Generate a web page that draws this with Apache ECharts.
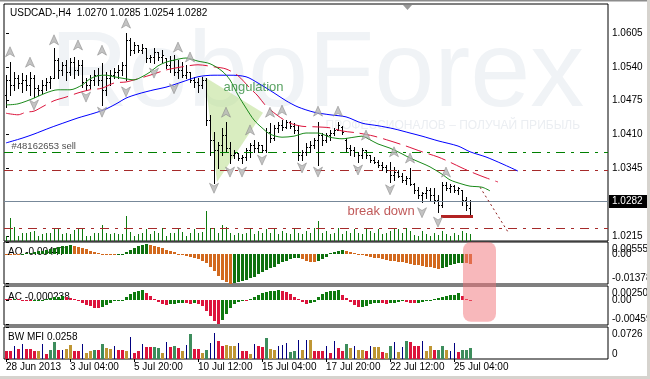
<!DOCTYPE html>
<html>
<head>
<meta charset="utf-8">
<title>USDCAD H4</title>
<script src="https://cdn.jsdelivr.net/npm/echarts@6.0.0/dist/echarts.min.js"></script>
<style>
html,body{margin:0;padding:0;background:#fff;overflow:hidden;}
#chart{width:650px;height:379px;}
</style>
</head>
<body>
<div id="chart"></div>
<script>
// ================= DATA =================
const symbolTitle = 'USDCAD-,H4';
const lastBarOHLC = ['1.0270', '1.0285', '1.0254', '1.0282'];

const opens = [
1.0486,1.0515,1.0505,1.0519,1.0509,1.0515,1.0505,1.0519,1.0499,1.0496,
1.0505,1.0511,1.0519,1.0553,1.0534,1.0544,1.0530,1.0549,1.0534,1.0544,
1.0511,1.0505,1.0515,1.0524,1.0515,1.0496,1.0519,1.0524,1.0530,1.0534,
1.0544,1.0592,1.0572,1.0582,1.0572,1.0576,1.0557,1.0559,1.0569,1.0559,
1.0557,1.0544,1.0553,1.0530,1.0534,1.0524,1.0530,1.0515,1.0511,1.0505,
1.0515,1.0438,1.0400,1.0380,1.0390,1.0409,1.0384,1.0371,1.0375,1.0365,
1.0367,1.0380,1.0390,1.0384,1.0390,1.0380,1.0415,1.0403,1.0423,1.0428,
1.0425,1.0434,1.0426,1.0419,1.0371,1.0377,1.0386,1.0390,1.0400,1.0409,
1.0400,1.0409,1.0413,1.0419,1.0425,1.0400,1.0384,1.0380,1.0377,1.0371,
1.0380,1.0371,1.0361,1.0357,1.0352,1.0348,1.0342,1.0332,1.0338,1.0330,
1.0323,1.0327,1.0315,1.0304,1.0294,1.0298,1.0304,1.0294,1.0284,1.0275,
1.0313,1.0307,1.0311,1.0304,1.0304,1.0284,1.0270];
const highs = [
1.0524,1.0549,1.0530,1.0524,1.0528,1.0524,1.0530,1.0524,1.0505,1.0515,
1.0519,1.0523,1.0576,1.0557,1.0549,1.0553,1.0557,1.0559,1.0553,1.0553,
1.0519,1.0524,1.0534,1.0538,1.0547,1.0530,1.0534,1.0538,1.0544,1.0549,
1.0605,1.0595,1.0588,1.0582,1.0584,1.0576,1.0563,1.0576,1.0569,1.0572,
1.0557,1.0561,1.0563,1.0553,1.0549,1.0544,1.0530,1.0521,1.0519,1.0521,
1.0519,1.0448,1.0415,1.0396,1.0423,1.0434,1.0396,1.0380,1.0375,1.0371,
1.0384,1.0394,1.0400,1.0396,1.0390,1.0423,1.0432,1.0428,1.0434,1.0438,
1.0438,1.0436,1.0432,1.0428,1.0380,1.0394,1.0398,1.0403,1.0434,1.0413,
1.0413,1.0419,1.0423,1.0434,1.0426,1.0403,1.0390,1.0386,1.0377,1.0384,
1.0380,1.0371,1.0367,1.0361,1.0357,1.0352,1.0357,1.0348,1.0342,1.0336,
1.0330,1.0346,1.0317,1.0309,1.0300,1.0309,1.0307,1.0307,1.0294,1.0319,
1.0319,1.0315,1.0313,1.0309,1.0304,1.0290,1.0285];
const lows = [
1.0463,1.0486,1.0496,1.0499,1.0492,1.0496,1.0486,1.0482,1.0486,1.0490,
1.0496,1.0499,1.0519,1.0519,1.0524,1.0515,1.0524,1.0519,1.0524,1.0501,
1.0496,1.0499,1.0505,1.0505,1.0467,1.0486,1.0505,1.0519,1.0519,1.0524,
1.0515,1.0563,1.0567,1.0569,1.0567,1.0549,1.0549,1.0547,1.0553,1.0549,
1.0538,1.0530,1.0524,1.0519,1.0521,1.0519,1.0511,1.0501,1.0492,1.0499,
1.0428,1.0371,1.0317,1.0346,1.0371,1.0377,1.0355,1.0365,1.0361,1.0355,
1.0361,1.0367,1.0377,1.0377,1.0377,1.0377,1.0396,1.0400,1.0415,1.0419,
1.0423,1.0423,1.0413,1.0361,1.0361,1.0371,1.0377,1.0384,1.0352,1.0390,
1.0396,1.0400,1.0409,1.0419,1.0411,1.0377,1.0371,1.0369,1.0357,1.0365,
1.0365,1.0357,1.0355,1.0348,1.0342,1.0338,1.0319,1.0323,1.0329,1.0319,
1.0315,1.0313,1.0298,1.0288,1.0281,1.0288,1.0284,1.0279,1.0261,1.0271,
1.0304,1.0300,1.0300,1.0296,1.0275,1.0265,1.0254];
const closes = [
1.0515,1.0505,1.0519,1.0509,1.0515,1.0505,1.0519,1.0499,1.0496,1.0505,
1.0511,1.0519,1.0553,1.0534,1.0544,1.0530,1.0549,1.0534,1.0544,1.0511,
1.0505,1.0515,1.0524,1.0515,1.0496,1.0519,1.0524,1.0530,1.0534,1.0544,
1.0592,1.0572,1.0582,1.0572,1.0576,1.0557,1.0559,1.0569,1.0559,1.0563,
1.0544,1.0553,1.0530,1.0534,1.0524,1.0530,1.0515,1.0511,1.0505,1.0515,
1.0438,1.0400,1.0380,1.0390,1.0409,1.0384,1.0371,1.0375,1.0365,1.0367,
1.0380,1.0390,1.0384,1.0390,1.0380,1.0415,1.0403,1.0423,1.0428,1.0425,
1.0434,1.0426,1.0419,1.0371,1.0377,1.0386,1.0390,1.0400,1.0409,1.0400,
1.0409,1.0413,1.0419,1.0428,1.0415,1.0384,1.0380,1.0377,1.0371,1.0380,
1.0371,1.0361,1.0357,1.0352,1.0348,1.0342,1.0332,1.0338,1.0330,1.0323,
1.0327,1.0315,1.0304,1.0294,1.0298,1.0304,1.0294,1.0284,1.0275,1.0313,
1.0307,1.0311,1.0304,1.0307,1.0284,1.0275,1.0282];
const tickVolumes = [
500,2300,1400,500,800,800,900,1000,500,700,
800,800,1300,1300,700,800,700,1100,1300,1200,
500,500,800,800,1600,800,700,800,700,700,
2500,900,500,700,800,1200,700,1000,800,1300,
500,800,800,1300,900,500,800,1200,800,900,
3000,1300,1300,800,1600,1400,800,600,800,700,
800,1300,700,1000,800,1200,800,1200,700,1000,
800,700,1300,800,700,1000,800,1300,2000,800,
1000,700,800,1300,700,1000,800,1200,800,700,
1200,1000,800,1200,700,800,1000,1300,1200,800,
1300,1000,600,500,1000,700,500,800,600,1000,
700,500,800,600,1000,800,700];

// Alligator lines (bar index, price)
const lipsLine = [[0,1.0467],[3,1.0469],[7,1.0480],[10,1.0490],[13,1.0496],[16,1.0496],[19,1.0505],[21,1.0517],[23,1.0523],[25,1.0524],[27,1.0521],[30,1.0517],[32,1.0515],[34,1.0521],[36,1.0530],[38,1.0542],[40,1.0549],[42,1.0553],[45,1.0557],[48,1.0551],[51,1.0546],[54,1.0532],[56,1.0515],[58,1.0486],[60,1.0461],[62,1.0438],[64,1.0423],[66,1.0411],[69,1.0405],[72,1.0407],[75,1.0413],[78,1.0413],[81,1.0405],[84,1.0402],[87,1.0405],[89,1.0407],[91,1.0400],[93,1.0392],[96,1.0384],[99,1.0373],[101,1.0365],[104,1.0355],[106,1.0348],[109,1.0334],[111,1.0323],[114,1.0315],[116,1.0311],[119,1.0309],[121,1.0302]];
const teethLine = [[0,1.0451],[3,1.0448],[5,1.0453],[7,1.0455],[9,1.0463],[12,1.0475],[15,1.0482],[18,1.0490],[21,1.0496],[24,1.0499],[27,1.0509],[30,1.0511],[32,1.0515],[36,1.0524],[40,1.0534],[44,1.0540],[48,1.0544],[52,1.0540],[55,1.0536],[58,1.0523],[61,1.0499],[63,1.0484],[65,1.0465],[68,1.0446],[71,1.0432],[74,1.0426],[77,1.0425],[81,1.0423],[84,1.0417],[88,1.0413],[92,1.0407],[96,1.0398],[100,1.0388],[104,1.0377],[108,1.0367],[111,1.0357],[114,1.0346],[117,1.0336],[120,1.0327],[123,1.0319]];
const jawLine = [[0,1.0394],[4,1.0403],[7,1.0411],[11,1.0423],[15,1.0434],[18,1.0442],[22,1.0451],[25,1.0459],[28,1.0471],[30,1.0480],[33,1.0488],[37,1.0496],[40,1.0501],[44,1.0511],[48,1.0521],[52,1.0524],[56,1.0524],[60,1.0521],[63,1.0509],[67,1.0490],[70,1.0475],[73,1.0463],[77,1.0453],[81,1.0448],[85,1.0444],[89,1.0432],[93,1.0427],[97,1.0421],[101,1.0413],[104,1.0407],[108,1.0398],[113,1.0388],[116,1.0377],[120,1.0367],[124,1.0354],[128,1.0340]];

// Fractal arrows (bar index, price)
const upFractals = [[1,1.0569],[6,1.0549],[12,1.0592],[18,1.0582],[24,1.0572],[30,1.0624],[43,1.0578],[46,1.0559],[55,1.0453],[61,1.0419],[66,1.0453],[69,1.0457],[78,1.0455],[83,1.0455],[90,1.0409],[97,1.0377],[101,1.0365],[110,1.0338]];
const downFractals = [[7,1.0467],[20,1.0482],[24,1.0453],[30,1.0492],[37,1.0528],[42,1.0498],[52,1.0307],[56,1.0338],[59,1.0338],[64,1.0361],[74,1.0346],[78,1.0338],[88,1.0342],[96,1.0304],[104,1.0260],[108,1.0242]];

// Awesome Oscillator
const aoValues = [
0.0004,0.0003,0.0002,0.0001,0.0003,0.0005,0.0008,0.0011,0.0014,0.0017,
0.0021,0.0025,0.0030,0.0034,0.0038,0.0041,0.0043,0.0038,0.0033,0.0028,
0.0023,0.0016,0.0010,0.0006,0.0003,0.0001,-0.0001,-0.0002,-0.0001,0.0003,
0.0012,0.0022,0.0030,0.0037,0.0043,0.0047,0.0043,0.0038,0.0033,0.0028,
0.0022,0.0015,0.0009,0.0004,-0.0003,-0.0009,-0.0014,-0.0019,-0.0024,-0.0030,
-0.0040,-0.0057,-0.0080,-0.0102,-0.0118,-0.0130,-0.0137,-0.0133,-0.0128,-0.0124,
-0.0118,-0.0113,-0.0104,-0.0094,-0.0085,-0.0075,-0.0066,-0.0057,-0.0047,-0.0038,
-0.0030,-0.0022,-0.0017,-0.0015,-0.0024,-0.0030,-0.0035,-0.0038,-0.0033,-0.0024,
-0.0012,0.0005,0.0010,0.0015,0.0019,0.0014,0.0009,0.0005,-0.0001,-0.0005,
-0.0009,-0.0013,-0.0016,-0.0019,-0.0023,-0.0026,-0.0029,-0.0033,-0.0036,-0.0038,
-0.0042,-0.0045,-0.0048,-0.0052,-0.0055,-0.0058,-0.0061,-0.0064,-0.0068,-0.0064,
-0.0058,-0.0052,-0.0047,-0.0042,-0.0039,-0.0041,-0.00447];
// Accelerator Oscillator
const acValues = [
0.0002,0.0001,0.0002,0.0001,-0.0001,-0.0002,-0.0003,-0.0002,-0.0001,0.0000,
0.0001,0.0003,0.0005,0.0006,0.0007,0.0005,0.0003,0.0002,-0.0002,-0.0005,
-0.0009,-0.0012,-0.0015,-0.0016,-0.0013,-0.0009,-0.0006,-0.0003,-0.0002,-0.0001,
0.0006,0.0011,0.0015,0.0017,0.0018,0.0013,0.0008,0.0001,-0.0004,-0.0008,
-0.0009,-0.0008,-0.0007,-0.0006,-0.0005,-0.0006,-0.0007,-0.0006,-0.0007,-0.0012,
-0.0020,-0.0030,-0.0039,-0.0045,-0.0038,-0.0027,-0.0016,-0.0008,-0.0004,-0.0002,
-0.0003,0.0002,0.0006,0.0010,0.0013,0.0015,0.0016,0.0017,0.0019,0.0017,
0.0015,0.0011,0.0006,0.0002,-0.0004,-0.0007,-0.0006,-0.0004,0.0005,0.0011,
0.0014,0.0016,0.0017,0.0018,0.0010,0.0004,-0.0004,-0.0010,-0.0014,-0.0013,
-0.0011,-0.0008,-0.0006,-0.0005,-0.0006,-0.0007,-0.0006,-0.0005,-0.0004,-0.0003,
-0.0004,-0.0005,-0.0006,-0.0005,-0.0004,-0.0003,-0.0002,0.0001,0.0003,0.0005,
0.0007,0.0009,0.0010,0.0012,0.0008,0.0002,-0.000238];
// Market Facilitation Index
const mfiValues = [
0.0182,0.0182,0.0295,0.0227,0.0341,0.0227,0.0227,0.0182,0.0182,0.0341,
0.0114,0.0204,0.0386,0.0204,0.0204,0.0227,0.0318,0.0182,0.0182,0.0341,
0.0136,0.0182,0.0204,0.0204,0.0341,0.0250,0.0227,0.0295,0.0204,0.0204,
0.0182,0.0499,0.0136,0.0182,0.0341,0.0272,0.0272,0.0272,0.0250,0.0136,
0.0386,0.0272,0.0295,0.0250,0.0182,0.0318,0.0568,0.0227,0.0227,0.0136,
0.0204,0.0363,0.0590,0.0409,0.0295,0.0318,0.0295,0.0295,0.0363,0.0182,
0.0182,0.0114,0.0341,0.0295,0.0272,0.0477,0.0227,0.0204,0.0295,0.0318,
0.0363,0.0159,0.0182,0.0431,0.0204,0.0431,0.0431,0.0182,0.0182,0.0182,
0.0295,0.0136,0.0409,0.0250,0.0182,0.0341,0.0250,0.0295,0.0204,0.0204,
0.0182,0.0295,0.0272,0.0272,0.0159,0.0136,0.0295,0.0386,0.0159,0.0272,
0.0409,0.0386,0.0295,0.0295,0.0409,0.0182,0.0295,0.0204,0.0204,0.0295,
0.0204,0.0182,0.0363,0.0159,0.0204,0.0204,0.0258];
// MFI bar state: S = green, G = fade (brown), B = fake (blue), C = squat (pink)
const mfiStates = [
'C','C','B','C','B','C','C','C','G','B',
'C','S','S','C','B','G','G','C','C','B',
'G','G','S','C','S','G','G','B','C','C',
'G','B','C','C','B','C','C','S','S','G',
'B','C','S','C','G','B','S','C','C','G',
'S','B','B','C','C','G','G','G','B','C',
'C','G','B','C','C','S','G','G','B','B',
'B','S','S','B','G','B','G','C','C','C',
'B','C','B','C','C','S','G','B','G','G',
'C','B','G','G','C','G','S','B','G','B',
'S','C','C','C','B','G','G','C','S','S',
'G','B','B','C','S','S','S'];

// Axis ticks
const priceTicks = [1.0215, 1.0345, 1.0410, 1.0475, 1.0540, 1.0605];
const currentPrice = 1.0282;
const timeTickIndex = [0, 16, 32, 48, 64, 80, 96, 112];
const timeTickLabels = ['28 Jun 2013','3 Jul 04:00','5 Jul 20:00','10 Jul 12:00','15 Jul 04:00','17 Jul 20:00','22 Jul 12:00','25 Jul 04:00'];
const aoScaleValues = [0.00555, 0, -0.01378];
const aoScaleLabels = ['0.00555', '0.00', '-0.01378'];
const acScaleValues = [0.002507, 0, -0.00459];
const acScaleLabels = ['0.002507', '0.00', '-0.00459'];
const mfiScaleValues = [0.0726, 0];
const mfiScaleLabels = ['0.0726', '0'];
const panelTitles = ['AO -0.00447', 'AC -0.000238', 'BW MFI 0.0258'];

// Order / trade levels
const takeLevel = 1.0377;
const stopLevel = 1.0342;
const lowerLevel = 1.0230;
const orderLabel = {text: '#48162653 sell', at: [1.25, 1.0388]};
// Annotations
const angulationTriangle = [[49.75, 1.0520], [64.25, 1.0452], [52.75, 1.0319]];
const angulationLabel = {text: 'angulation', at: [54.25, 1.0501]};
const breakDownLine = [[108.75, 1.0254], [116.75, 1.0254]];
const breakDownLabel = {text: 'break down', at: [85.25, 1.0263]};
const projectionLine = [[118.5, 1.0309], [125.5, 1.0223]];
const highlightZone = {fromIdx: 114.25, toIdx: 122.5, aoTop: 0.0058, acBottom: -0.0041};

// ================= CHART =================
const FONT = "'Liberation Sans', Arial, sans-serif";
const X_RANGE = [-0.5, 150.5];
const grids = [
  {left: 4, top: 4, width: 604, height: 237},
  {left: 4, top: 242, width: 604, height: 42},
  {left: 4, top: 286, width: 604, height: 39},
  {left: 4, top: 327, width: 604, height: 32}
].map(g => Object.assign(g, {show: true, borderColor: '#000', borderWidth: 1, backgroundColor: 'transparent', containLabel: false}));

function hiddenX(gi) {
  return {type: 'value', gridIndex: gi, min: X_RANGE[0], max: X_RANGE[1], show: false};
}

const barData = opens.map((o, i) => [i, o, highs[i], lows[i], closes[i]]);

function ohlcRender(params, api) {
  const i = api.value(0);
  const pH = api.coord([i, api.value(2)]);
  const pL = api.coord([i, api.value(3)]);
  const pO = api.coord([i, api.value(1)]);
  const pC = api.coord([i, api.value(4)]);
  const X = Math.round(pH[0]);
  const st = {stroke: '#000', lineWidth: 1};
  const yo = Math.round(pO[1]) + 0.5, yc = Math.round(pC[1]) + 0.5;
  return {type: 'group', children: [
    {type: 'line', shape: {x1: X + 0.5, y1: Math.round(pH[1]), x2: X + 0.5, y2: Math.round(pL[1]) + 1}, style: st},
    {type: 'line', shape: {x1: X - 1, y1: yo, x2: X, y2: yo}, style: st},
    {type: 'line', shape: {x1: X + 1, y1: yc, x2: X + 2, y2: yc}, style: st}
  ]};
}

function volumeRender(params, api) {
  const i = api.value(0);
  const p0 = api.coord([i, 0]);
  const p1 = api.coord([i, api.value(1)]);
  const X = Math.round(p0[0]) + 0.5;
  return {type: 'line', shape: {x1: X, y1: p0[1], x2: X, y2: Math.round(p1[1])}, style: {stroke: '#0e7a0e', lineWidth: 1}};
}

function histRender(values, upColor, downColor) {
  return function (params, api) {
    const idx = params.dataIndex;
    const i = api.value(0), v = api.value(1);
    const prev = idx > 0 ? values[idx - 1] : Infinity;
    const color = v > prev ? upColor : downColor;
    const p0 = api.coord([i, 0]);
    const p1 = api.coord([i, v]);
    const X = Math.round(p0[0]);
    const y0 = Math.round(p0[1]), y1 = Math.round(p1[1]);
    return {type: 'rect', shape: {x: X - 1, y: Math.min(y0, y1), width: 3, height: Math.max(1, Math.abs(y1 - y0))}, style: {fill: color}};
  };
}

const mfiPalette = {S: '#3d8d5c', G: '#bf9634', B: '#000080', C: '#dc143c'};
function mfiRender(params, api) {
  const k = mfiStates[params.dataIndex];
  const i = api.value(0), v = api.value(1);
  const p0 = api.coord([i, 0]);
  const p1 = api.coord([i, v]);
  const X = Math.round(p0[0]);
  const w = k === 'B' ? 1 : 3;
  const x = k === 'B' ? X : X - 1;
  const yt = Math.round(p1[1]);
  return {type: 'rect', shape: {x: x, y: yt, width: w, height: Math.round(p0[1]) - yt}, style: {fill: mfiPalette[k]}};
}

function triangleRender(params, api) {
  const pts = angulationTriangle.map(p => api.coord(p));
  return {type: 'polygon', shape: {points: pts}, style: {fill: 'rgba(186,222,140,0.55)'}};
}

const upArrow = 'path://M5,0 L10,10 L5,7.2 L0,10 Z';
const downArrow = 'path://M0,0 L5,2.8 L10,0 L5,10 Z';

function noteSeries(note, color, size) {
  return {
    type: 'scatter', xAxisIndex: 0, yAxisIndex: 0, z: 7, silent: true,
    symbol: 'circle', symbolSize: 1, itemStyle: {color: 'rgba(0,0,0,0)'},
    data: [{value: note.at, name: note.text}],
    label: {show: true, position: 'right', distance: 0, formatter: '{b}', color: color, fontSize: size, fontFamily: FONT},
    emphasis: {disabled: true}
  };
}

const dashDot = [9, 6, 3, 6];

const option = {
  animation: false,
  backgroundColor: '#ffffff',
  grid: grids,
  xAxis: [
    hiddenX(0), hiddenX(1), hiddenX(2),
    {
      type: 'value', gridIndex: 3, min: X_RANGE[0], max: X_RANGE[1], position: 'bottom',
      axisLine: {show: false}, splitLine: {show: false},
      axisTick: {show: true, customValues: timeTickIndex, length: 3, lineStyle: {color: '#000'}},
      axisLabel: {show: true, customValues: timeTickIndex, align: 'left', margin: 3, fontSize: 10, color: '#000', fontFamily: FONT,
        formatter: v => timeTickLabels[timeTickIndex.indexOf(v)] || ''}
    }
  ],
  yAxis: [
    {
      type: 'value', gridIndex: 0, position: 'right', min: 1.02057, max: 1.06607,
      axisLine: {show: false}, splitLine: {show: false},
      axisTick: {show: true, customValues: priceTicks, length: 3, lineStyle: {color: '#000'}},
      axisLabel: {show: true, customValues: priceTicks, margin: 4, fontSize: 10, color: '#000', fontFamily: FONT, formatter: v => v.toFixed(4)}
    },
    {type: 'value', gridIndex: 0, min: 0, max: 23700, show: false},
    {
      type: 'value', gridIndex: 1, position: 'right', min: -0.0139, max: 0.0058,
      axisLine: {show: false}, splitLine: {show: false}, axisLabel: {show: false},
      axisTick: {show: true, customValues: aoScaleValues, length: 3, lineStyle: {color: '#000'}}
    },
    {
      type: 'value', gridIndex: 2, position: 'right', min: -0.0047, max: 0.0026,
      axisLine: {show: false}, splitLine: {show: false}, axisLabel: {show: false},
      axisTick: {show: true, customValues: acScaleValues, length: 3, lineStyle: {color: '#000'}}
    },
    {
      type: 'value', gridIndex: 3, position: 'right', min: 0, max: 0.0726,
      axisLine: {show: false}, splitLine: {show: false}, axisLabel: {show: false},
      axisTick: {show: true, customValues: mfiScaleValues, length: 3, lineStyle: {color: '#000'}}
    }
  ],
  series: [
    {type: 'custom', name: 'angulation', xAxisIndex: 0, yAxisIndex: 0, z: 1, silent: true, data: [[0]], renderItem: triangleRender},
    {type: 'custom', name: 'volume', xAxisIndex: 0, yAxisIndex: 1, z: 2, silent: true,
      data: tickVolumes.map((v, i) => [i, v]), renderItem: volumeRender},
    {type: 'line', name: 'levels', xAxisIndex: 0, yAxisIndex: 0, z: 2, silent: true, showSymbol: false,
      data: [[-10, currentPrice]], lineStyle: {width: 0},
      markLine: {silent: true, precision: 6, symbol: ['none', 'none'], label: {show: false}, emphasis: {disabled: true}, animation: false,
        data: [
          {yAxis: takeLevel, lineStyle: {color: '#008000', width: 1, type: dashDot}},
          {yAxis: stopLevel, lineStyle: {color: '#a52a2a', width: 1, type: dashDot}},
          {yAxis: lowerLevel, lineStyle: {color: '#a52a2a', width: 1, type: dashDot}},
          {yAxis: currentPrice, lineStyle: {color: '#778899', width: 1, type: 'solid'}}
        ]}
    },
    {type: 'custom', name: 'bars', xAxisIndex: 0, yAxisIndex: 0, z: 4, silent: true, data: barData, renderItem: ohlcRender},
    {type: 'line', name: 'jaw', xAxisIndex: 0, yAxisIndex: 0, z: 5, data: jawLine, smooth: 0.3, showSymbol: false, silent: true,
      lineStyle: {color: '#0000ff', width: 1}},
    {type: 'line', name: 'teeth', xAxisIndex: 0, yAxisIndex: 0, z: 5, data: teethLine, smooth: 0.3, showSymbol: false, silent: true,
      lineStyle: {color: '#dc143c', width: 1, type: [18, 6]}},
    {type: 'line', name: 'lips', xAxisIndex: 0, yAxisIndex: 0, z: 5, data: lipsLine, smooth: 0.3, showSymbol: false, silent: true,
      lineStyle: {color: '#1a8a1a', width: 1},
      markLine: {silent: true, precision: 6, symbol: ['none', 'none'], label: {show: false}, emphasis: {disabled: true}, animation: false,
        data: [
          [{coord: projectionLine[0], lineStyle: {color: '#8b1a1a', width: 1, type: [2, 3]}}, {coord: projectionLine[1]}],
          [{coord: breakDownLine[0], lineStyle: {color: '#b22222', width: 3, type: 'solid'}}, {coord: breakDownLine[1]}]
        ]}
    },
    {type: 'scatter', name: 'fractalUp', xAxisIndex: 0, yAxisIndex: 0, z: 6, silent: true, data: upFractals,
      symbol: upArrow, symbolSize: [9, 10], itemStyle: {color: '#b4b4b4', borderColor: '#7c7c7c', borderWidth: 0.6}},
    {type: 'scatter', name: 'fractalDown', xAxisIndex: 0, yAxisIndex: 0, z: 6, silent: true, data: downFractals,
      symbol: downArrow, symbolSize: [9, 10], itemStyle: {color: '#b4b4b4', borderColor: '#7c7c7c', borderWidth: 0.6}},
    noteSeries(angulationLabel, '#2e8b3a', 13),
    noteSeries(breakDownLabel, '#b03030', 13),
    noteSeries(orderLabel, '#1a1a1a', 9.5),
    {type: 'custom', name: 'AO', xAxisIndex: 1, yAxisIndex: 2, z: 4, silent: true,
      data: aoValues.map((v, i) => [i, v]), renderItem: histRender(aoValues, '#0e700e', '#d2691e')},
    {type: 'custom', name: 'AC', xAxisIndex: 2, yAxisIndex: 3, z: 4, silent: true,
      data: acValues.map((v, i) => [i, v]), renderItem: histRender(acValues, '#0e7a0e', '#dc143c')},
    {type: 'custom', name: 'BW MFI', xAxisIndex: 3, yAxisIndex: 4, z: 4, silent: true,
      data: mfiValues.map((v, i) => [i, v]), renderItem: mfiRender}
  ]
};

const chart = echarts.init(document.getElementById('chart'), null, {renderer: 'canvas'});
chart.setOption(option);

// ---- overlay texts and decorations placed through the chart's own scales ----
const g = [];
const yPix = (axisIdx, v) => chart.convertToPixel({yAxisIndex: axisIdx}, v);
const xPix = (axisIdx, v) => chart.convertToPixel({xAxisIndex: axisIdx}, v);

// watermark
g.push({type: 'text', z: 0, silent: true, style: {x: 50, y: 76, text: 'RoboForex', fill: '#f0f3f6',
  font: "108px 'Liberation Sans', Arial, sans-serif", verticalAlign: 'middle', align: 'left'}});
g.push({type: 'text', z: 0, silent: true, style: {x: 580, y: 126, text: 'ПРОФЕССИОНАЛОВ – ПОЛУЧАЙ ПРИБЫЛЬ', fill: '#ebeef2',
  font: "12px 'Liberation Sans', Arial, sans-serif", verticalAlign: 'middle', align: 'right'}});

// header
g.push({type: 'text', z: 20, silent: true, style: {x: 10, y: 13, text: symbolTitle + '  ' + lastBarOHLC.join(' '), fill: '#000',
  font: "10px " + FONT, verticalAlign: 'middle', align: 'left'}});

// panel titles
const titleY = [252, 297, 337];
panelTitles.forEach((t, k) => g.push({type: 'text', z: 1, silent: true, style: {x: 8, y: titleY[k], text: t, fill: '#000',
  font: "10px " + FONT, verticalAlign: 'middle', align: 'left'}}));

// indicator scale labels
function scaleLabels(axisIdx, values, labels) {
  values.forEach((v, k) => {
    const py = yPix(axisIdx, v);
    const isTop = k === 0;
    const isBottom = k === values.length - 1 && (v !== 0 || values.length === 2);
    let va = 'middle', y = py;
    if (isTop) { va = 'top'; y = py + 2; }
    else if (isBottom) { va = 'bottom'; y = py; }
    g.push({type: 'text', z: 20, silent: true, style: {x: 612, y: y, text: labels[k], fill: '#000',
      font: "10px " + FONT, verticalAlign: va, align: 'left'}});
  });
}
scaleLabels(2, aoScaleValues, aoScaleLabels);
scaleLabels(3, acScaleValues, acScaleLabels);
scaleLabels(4, mfiScaleValues, mfiScaleLabels);

// current price box
const cpY = Math.round(yPix(0, currentPrice));
g.push({type: 'rect', z: 30, silent: true, shape: {x: 609, y: cpY - 6, width: 40, height: 13}, style: {fill: '#000'}});
g.push({type: 'text', z: 31, silent: true, style: {x: 612, y: cpY + 0.5, text: currentPrice.toFixed(4), fill: '#fff',
  font: "10px " + FONT, verticalAlign: 'middle', align: 'left'}});

// highlight zone over AO / AC
const hx1 = xPix(1, highlightZone.fromIdx), hx2 = xPix(1, highlightZone.toIdx);
const hy1 = yPix(2, highlightZone.aoTop), hy2 = yPix(3, highlightZone.acBottom);
g.push({type: 'rect', z: 40, silent: true, shape: {x: hx1, y: hy1, width: hx2 - hx1, height: hy2 - hy1, r: 8},
  style: {fill: 'rgba(241,113,119,0.5)'}});

// chart-shift marker and window frame
g.push({type: 'polygon', z: 20, silent: true, shape: {points: [[403, 5], [412, 5], [407.5, 10]]}, style: {fill: '#9a9a9a'}});
g.push({type: 'rect', z: 50, silent: true, shape: {x: 0, y: 0, width: 650, height: 1.5}, style: {fill: '#8c8c8c'}});
g.push({type: 'rect', z: 50, silent: true, shape: {x: 647, y: 0, width: 3, height: 379}, style: {fill: '#d6d3ce'}});
g.push({type: 'rect', z: 50, silent: true, shape: {x: 0, y: 376, width: 650, height: 3}, style: {fill: '#d6d3ce'}});

chart.setOption({graphic: {elements: g}});
</script>
</body>
</html>
